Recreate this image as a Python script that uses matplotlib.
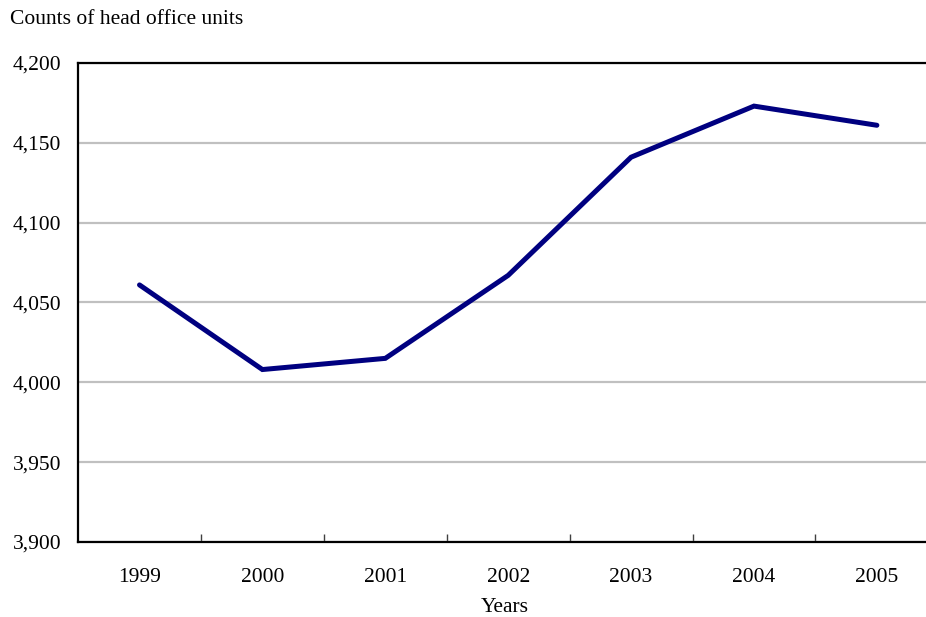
import matplotlib
matplotlib.use("Agg")
import matplotlib.pyplot as plt
from matplotlib.ticker import FuncFormatter, FixedLocator

years = ["1999", "2000", "2001", "2002", "2003", "2004", "2005"]
head_office_units = [4061, 4008, 4015, 4067, 4141, 4173, 4161]
y_ticks = [3900, 3950, 4000, 4050, 4100, 4150, 4200]

plt.rcParams["font.family"] = ["Liberation Serif", "DejaVu Serif"]
FS = 15.5

fig = plt.figure(figsize=(9.26, 6.17), dpi=100)
ax = fig.add_axes([0.0843, 0.1216, 0.929, 0.7763])

x = list(range(len(years)))
ax.plot(x, head_office_units, color="#000080", linewidth=3.6,
        solid_capstyle="round", solid_joinstyle="miter", zorder=3)

ax.set_xlim(-0.5, len(years) - 0.5)
ax.set_ylim(y_ticks[0], y_ticks[-1])
ax.set_yticks(y_ticks)
ax.yaxis.set_major_formatter(FuncFormatter(lambda v, p: f"{int(v):,}"))
ax.yaxis.grid(True, color="#C0C0C0", linewidth=1.6)
ax.set_axisbelow(True)

ax.set_xticks(x)
ax.set_xticklabels(years)
ax.xaxis.set_minor_locator(FixedLocator([i + 0.5 for i in x[:-1]]))
ax.tick_params(axis="x", which="major", length=0, pad=19, labelsize=FS)
ax.tick_params(axis="x", which="minor", direction="in", length=6,
               width=1, color="#404040")
ax.tick_params(axis="y", length=0, pad=12, labelsize=FS)

for side in ("left", "bottom", "top"):
    ax.spines[side].set_linewidth(1.6)
    ax.spines[side].set_color("black")
ax.spines["right"].set_visible(False)

fig.text(10 / 926, 1 - 20 / 617, "Counts of head office units",
         fontsize=FS, ha="left", va="center")
fig.text(505 / 926, 1 - 608 / 617, "Years", fontsize=FS,
         ha="center", va="center")

fig.savefig("out.png", dpi=100)
